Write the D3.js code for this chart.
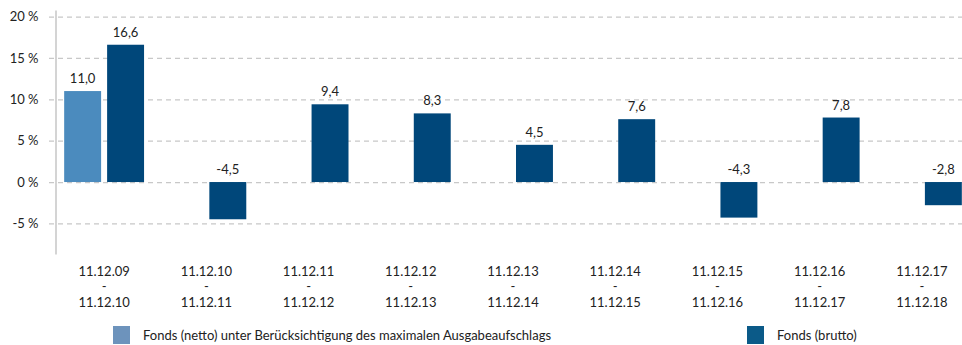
<!DOCTYPE html>
<html>
<head>
<meta charset="utf-8">
<script src="https://cdn.jsdelivr.net/npm/d3@7/dist/d3.min.js"></script>
<style>
  html, body { margin: 0; padding: 0; background: #fff; }
  svg { display: block; font-family: Lato, "Open Sans", sans-serif; }
</style>
</head>
<body>
<svg id="chart" width="962" height="345"></svg>
<script>
// Periods (start / end of each one-year window)
const periodStart = ["11.12.09", "11.12.10", "11.12.11", "11.12.12", "11.12.13", "11.12.14", "11.12.15", "11.12.16", "11.12.17"];
const periodEnd   = ["11.12.10", "11.12.11", "11.12.12", "11.12.13", "11.12.14", "11.12.15", "11.12.16", "11.12.17", "11.12.18"];

// Annual performance in %
const nettoValues  = [11.0, null, null, null, null, null, null, null, null];
const bruttoValues = [16.6, -4.5, 9.4, 8.3, 4.5, 7.6, -4.3, 7.8, -2.8];

const yTicks = [20, 15, 10, 5, 0, -5];
const seriesNames = ["Fonds (netto) unter Berücksichtigung des maximalen Ausgabeaufschlags", "Fonds (brutto)"];
const seriesKeys = ["netto", "brutto"];

const barColors = { netto: "#4b8bbe", brutto: "#00477a" };
const legendColors = { netto: "#6d93bc", brutto: "#0b5a88" };

const svg = d3.select("#chart");
// German decimal comma, plain hyphen as minus sign
const fmt = v => d3.format(".1f")(v).replace(".", ",").replace("\u2212", "-");

const x0 = d3.scaleBand().domain(d3.range(periodStart.length)).range([53, 973]).paddingInner(0).paddingOuter(0);
const x1 = d3.scaleBand().domain(seriesKeys).range([0, x0.bandwidth()]).paddingInner(0.14).paddingOuter(0.26);
const y = d3.scaleLinear().domain([-8.7, 20.8]).range([254, 10]);

// Grid lines
const grid = svg.append("g").attr("class", "grid");
grid.selectAll("line").data(yTicks).join("line")
  .attr("x1", 49).attr("x2", 962)
  .attr("y1", d => y(d) + 0.5).attr("y2", d => y(d) + 0.5)
  .attr("stroke", "#c8c8c8").attr("stroke-width", 1.3)
  .attr("stroke-dasharray", "5,4");

// Y axis
const yAxis = d3.axisLeft(y).tickValues(yTicks).tickSize(0).tickPadding(0)
  .tickFormat(d => String(d).replace("\u2212", "-") + " %");
const gy = svg.append("g").attr("transform", "translate(55.5,0)").call(yAxis);
gy.select(".domain").attr("stroke", "#bdbdbd").attr("stroke-width", 1.3);
gy.selectAll("text").attr("x", -17).attr("font-size", 13).attr("fill", "#222")
  .attr("font-family", "Lato, 'Open Sans', sans-serif");

// Bars
const rows = periodStart.map((p, i) => ({ i, netto: nettoValues[i], brutto: bruttoValues[i] }));
const groups = svg.append("g").selectAll("g").data(rows).join("g")
  .attr("transform", d => `translate(${x0(d.i)},0)`);

groups.selectAll("rect")
  .data(d => seriesKeys.filter(k => d[k] !== null).map(k => ({ key: k, value: d[k] })))
  .join("rect")
  .attr("x", d => x1(d.key))
  .attr("width", x1.bandwidth())
  .attr("y", d => y(Math.max(0, d.value)))
  .attr("height", d => Math.abs(y(d.value) - y(0)))
  .attr("fill", d => barColors[d.key]);

groups.selectAll("text.val")
  .data(d => seriesKeys.filter(k => d[k] !== null).map(k => ({ key: k, value: d[k] })))
  .join("text")
  .attr("class", "val")
  .attr("x", d => x1(d.key) + x1.bandwidth() / 2)
  .attr("y", d => (d.value >= 0 ? y(d.value) : y(0)) - 8)
  .attr("text-anchor", "middle")
  .attr("font-size", 13).attr("fill", "#222")
  .text(d => fmt(d.value));

// Category labels
const cat = svg.append("g").selectAll("text").data(rows).join("text")
  .attr("text-anchor", "middle")
  .attr("font-size", 13).attr("fill", "#222")
  .attr("x", d => x0(d.i) + x0.bandwidth() / 2);
cat.append("tspan").attr("x", d => x0(d.i) + x0.bandwidth() / 2).attr("y", 276).text(d => periodStart[d.i]);
cat.append("tspan").attr("x", d => x0(d.i) + x0.bandwidth() / 2).attr("y", 291).text("-");
cat.append("tspan").attr("x", d => x0(d.i) + x0.bandwidth() / 2).attr("y", 307).text(d => periodEnd[d.i]);

// Legend
const legendX = [113, 747];
const legend = svg.append("g").selectAll("g").data(seriesKeys).join("g")
  .attr("transform", (d, i) => `translate(${legendX[i]},326)`);
legend.append("rect").attr("width", 17).attr("height", 18).attr("fill", d => legendColors[d]);
legend.append("text").attr("x", 30).attr("y", 14).attr("font-size", 13).attr("fill", "#222")
  .text((d, i) => seriesNames[i]);
</script>
</body>
</html>
